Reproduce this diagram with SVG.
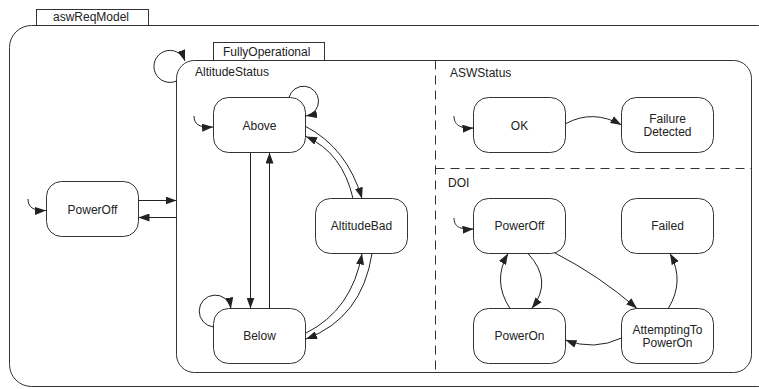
<svg xmlns="http://www.w3.org/2000/svg" width="759" height="389" viewBox="0 0 759 389">
<defs>
<marker id="ah" markerWidth="11" markerHeight="8" refX="11" refY="4" orient="auto" markerUnits="userSpaceOnUse">
<path d="M0,0 L11,4 L0,8 z" fill="#222"/>
</marker>
<style>
.box{fill:#fff;stroke:#333;stroke-width:1}
.frame{fill:none;stroke:#333;stroke-width:1}
.dash{fill:none;stroke:#333;stroke-width:1;stroke-dasharray:9,6}
.st{fill:#fff;stroke:#333;stroke-width:1}
.c{fill:none;stroke:#222;stroke-width:1;marker-end:url(#ah)}
text{font-family:"Liberation Sans",Arial,sans-serif;font-size:12px;fill:#222}
.m{text-anchor:middle}
</style>
</defs>
<rect width="759" height="389" fill="#fff"/>
<g id="aswReqModel">
<rect class="frame" x="9.5" y="25.5" width="770" height="361" rx="22"/>
<rect class="box" x="36.5" y="9.5" width="112" height="16"/>
<text x="53" y="21">aswReqModel</text>
</g>
<g id="FullyOperational">
<rect class="frame" x="176.5" y="60.5" width="575" height="312" rx="18"/>
<rect class="box" x="213.5" y="42.5" width="111" height="18"/>
<text x="223" y="56">FullyOperational</text>
<line class="dash" x1="435.5" y1="60.5" x2="435.5" y2="372.5"/>
<line class="dash" x1="435.5" y1="168.5" x2="751.5" y2="168.5"/>
<text x="195" y="76">AltitudeStatus</text>
<text x="450" y="76.5">ASWStatus</text>
<text x="448" y="186.5">DOI</text>
</g>
<g id="PowerOff">
<rect class="st" x="46.5" y="181.5" width="92" height="55" rx="15"/>
<text class="m" x="92.5" y="213.5">PowerOff</text>
</g>
<g id="Above">
<rect class="st" x="213.5" y="97.5" width="92" height="55" rx="15"/>
<text class="m" x="259.5" y="129.5">Above</text>
</g>
<g id="Below">
<rect class="st" x="213.5" y="308.5" width="92" height="55" rx="15"/>
<text class="m" x="259.5" y="340">Below</text>
</g>
<g id="AltitudeBad">
<rect class="st" x="315.5" y="198.5" width="92" height="55" rx="15"/>
<text class="m" x="361.5" y="230">AltitudeBad</text>
</g>
<g id="OK">
<rect class="st" x="473.5" y="97.5" width="92" height="55" rx="15"/>
<text class="m" x="519.5" y="129.5">OK</text>
</g>
<g id="FailureDetected">
<rect class="st" x="621.5" y="97.5" width="92" height="55" rx="15"/>
<text class="m" x="667.5" y="123">Failure</text>
<text class="m" x="667.5" y="136">Detected</text>
</g>
<g id="DOI_PowerOff">
<rect class="st" x="473.5" y="198.5" width="92" height="55" rx="15"/>
<text class="m" x="519.5" y="230">PowerOff</text>
</g>
<g id="Failed">
<rect class="st" x="621.5" y="198.5" width="92" height="55" rx="15"/>
<text class="m" x="667.5" y="230">Failed</text>
</g>
<g id="PowerOn">
<rect class="st" x="473.5" y="308.5" width="92" height="55" rx="15"/>
<text class="m" x="519.5" y="340">PowerOn</text>
</g>
<g id="AttemptingToPowerOn">
<rect class="st" x="621.5" y="308.5" width="92" height="55" rx="15"/>
<text class="m" x="667.5" y="334">AttemptingTo</text>
<text class="m" x="667.5" y="347">PowerOn</text>
</g>
<g id="connectors">
<path class="c" d="M176.5,81 A16,16 0 1 1 185,61"/>
<path class="c" d="M28,199 C28,207 33,211 46,210.5"/>
<path class="c" d="M138.5,200.5 L176.5,200.5"/>
<path class="c" d="M176.5,217.5 L138.5,217.5"/>
<path class="c" d="M194,116 C194,124 199,128 213,127"/>
<path class="c" d="M289,97.5 A15,15 0 1 1 306,116"/>
<path class="c" d="M213.5,327 A16,16 0 1 1 231,308.5"/>
<path class="c" d="M250.5,152.5 L250.5,308.5"/>
<path class="c" d="M269.5,308.5 L269.5,152.5"/>
<path class="c" d="M306,126.7 Q347,148 362,198.5"/>
<path class="c" d="M353,198.5 Q342.7,153 306,136.5"/>
<path class="c" d="M372,253.5 Q362,318 306,339"/>
<path class="c" d="M306,333 Q352,310 362,253.5"/>
<path class="c" d="M454,116 C454,124 459,129 473.5,128"/>
<path class="c" d="M566,123.5 Q593,109 621.5,125"/>
<path class="c" d="M454,218 C454,226 459,230 473.5,229"/>
<path class="c" d="M510,308.5 Q492,281 508,253.5"/>
<path class="c" d="M528,253.5 Q553.5,281 531.7,308.5"/>
<path class="c" d="M555,253 Q599.4,275.8 637,308.5"/>
<path class="c" d="M668.3,308.5 Q685,281 670,253.5"/>
<path class="c" d="M621.5,338 Q594,351 565.5,340"/>
</g>
</svg>
